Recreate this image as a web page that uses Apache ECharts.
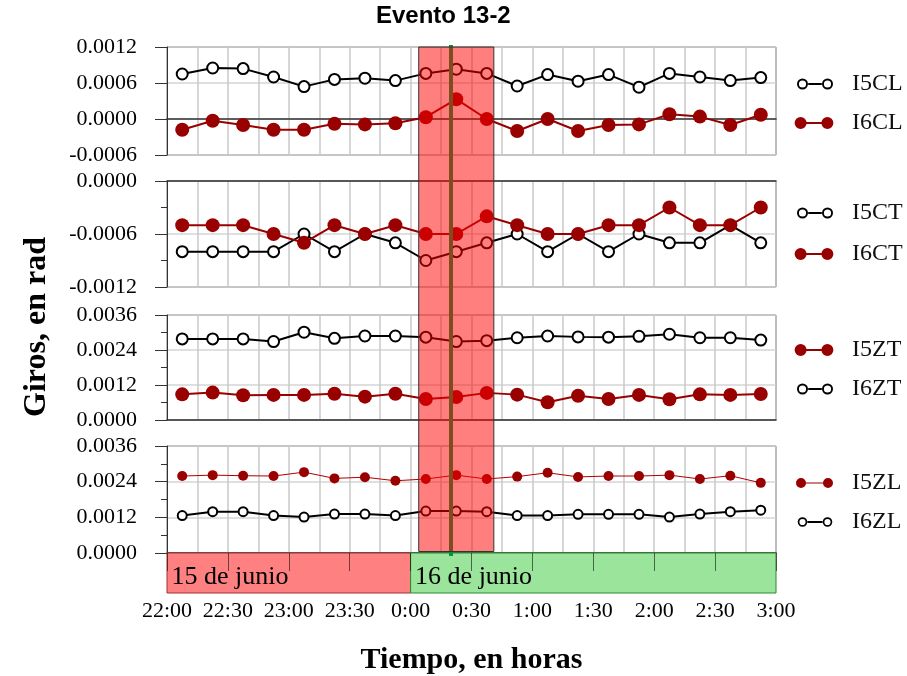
<!DOCTYPE html>
<html><head><meta charset="utf-8">
<script src="https://cdn.jsdelivr.net/npm/echarts@6/dist/echarts.min.js"></script>
<style>html,body{margin:0;padding:0;background:#fff}#c{width:907px;height:676px}</style>
</head><body><div id="c"></div>
<script>
// ---------- data ----------
const categories = ['22:00','22:15','22:30','22:45','23:00','23:15','23:30','23:45','0:00','0:15','0:30','0:45','1:00','1:15','1:30','1:45','2:00','2:15','2:30','2:45'];
const timeLabels = ['22:00','22:30','23:00','23:30','0:00','0:30','1:00','1:30','2:00','2:30','3:00'];
const dayNames = ['15 de junio','16 de junio'];
const dayRanges = [['22:00','0:00'],['0:00','3:00']];
const eventWindow = ['0:04','0:41'];
const eventTime = '0:20';

const I5CL = [0.00075,0.00085,0.00084,0.00070,0.00054,0.00066,0.00068,0.00064,0.00076,0.00083,0.00076,0.00055,0.00074,0.00063,0.00074,0.00053,0.00076,0.00070,0.00064,0.00069];
const I6CL = [-0.00018,-0.00003,-0.00010,-0.00018,-0.00018,-0.00008,-0.00009,-0.00007,0.00003,0.00033,0.00000,-0.00020,0.00000,-0.00020,-0.00010,-0.00009,0.00008,0.00004,-0.00010,0.00007];
const I5CT = [-0.0008,-0.0008,-0.0008,-0.0008,-0.0006,-0.0008,-0.0006,-0.0007,-0.0009,-0.0008,-0.0007,-0.0006,-0.0008,-0.0006,-0.0008,-0.0006,-0.0007,-0.0007,-0.0005,-0.0007];
const I6CT = [-0.0005,-0.0005,-0.0005,-0.0006,-0.0007,-0.0005,-0.0006,-0.0005,-0.0006,-0.0006,-0.0004,-0.0005,-0.0006,-0.0006,-0.0005,-0.0005,-0.0003,-0.0005,-0.0005,-0.0003];
const I5ZT = [0.00088,0.00094,0.00085,0.00086,0.00086,0.00090,0.00080,0.00090,0.00072,0.00079,0.00093,0.00087,0.00061,0.00083,0.00072,0.00086,0.00071,0.00088,0.00086,0.00089];
const I6ZT = [0.00278,0.00278,0.00278,0.00269,0.00301,0.00280,0.00288,0.00288,0.00284,0.00269,0.00272,0.00282,0.00288,0.00285,0.00284,0.00287,0.00294,0.00282,0.00282,0.00274];
const I5ZL = [0.00259,0.00262,0.00260,0.00259,0.00272,0.00251,0.00255,0.00243,0.00249,0.00262,0.00249,0.00257,0.00270,0.00256,0.00259,0.00259,0.00262,0.00249,0.00260,0.00236];
const I6ZL = [0.00126,0.00139,0.00139,0.00126,0.00121,0.00131,0.00131,0.00126,0.00141,0.00141,0.00139,0.00126,0.00126,0.00130,0.00130,0.00130,0.00121,0.00131,0.00139,0.00144];

// ---------- helpers ----------
function toMin(t){ const [h,m]=t.split(':').map(Number); const v=h*60+m; return h>=22 ? v-22*60 : v+120; }
const SERIF = '"Liberation Serif","DejaVu Serif",serif';
const RED = '#990000';

function tiny(){ return 'M0,0L0.01,0L0,0.01Z M42,12L41.99,12L42,11.99Z '; }
function ring(cx,r,ri){ return `M${cx-r},6 A${r},${r} 0 1,1 ${cx+r},6 A${r},${r} 0 1,1 ${cx-r},6 Z M${cx-ri},6 A${ri},${ri} 0 1,0 ${cx+ri},6 A${ri},${ri} 0 1,0 ${cx-ri},6 Z `; }
function disc(cx,r){ return `M${cx-r},6 A${r},${r} 0 1,1 ${cx+r},6 A${r},${r} 0 1,1 ${cx-r},6 Z `; }
function bar(x0,x1,w){ return `M${x0},${6-w/2} L${x1},${6-w/2} L${x1},${6+w/2} L${x0},${6+w/2} Z `; }
function openIcon(c0,c1,r,ri,lw){ return 'path://'+tiny()+ring(c0,r,ri)+ring(c1,r,ri)+bar(c0+r+0.2,c1-r-0.2,lw); }
function fillIcon(c0,c1,r,lw){ return 'path://'+tiny()+disc(c0,r)+disc(c1,r)+bar(c0+r-0.5,c1-r+0.5,lw); }

const panels = [
  {top:47, height:108, min:-0.0006, max:0.0012, interval:0.0006, minor:false},
  {top:181, height:106, min:-0.0012, max:0, interval:0.0006, minor:true},
  {top:315, height:105, min:0, max:0.0036, interval:0.0012, minor:true},
  {top:446, height:107, min:0, max:0.0036, interval:0.0012, minor:true}
];
const GL = 167, GW = 609;

const grids = panels.map(p => ({left:GL, width:GW, top:p.top, height:p.height, show:true, backgroundColor:'#fff', borderColor:'#3a3a3a', borderWidth:1, outerBoundsMode:'none'}));
grids.push({left:GL, width:GW, top:553, height:40, outerBoundsMode:'none'});      // 4 day bar
grids.push({left:GL, width:GW, top:45, height:511, outerBoundsMode:'none'});      // 5 event line
grids.push({left:GL, width:GW, top:47, height:504.5, outerBoundsMode:'none'});    // 6 event window

const xAxes = panels.map((p,i) => ({
  type:'category', gridIndex:i, data:categories, boundaryGap:true,
  axisLine:{show:true, onZero:true, lineStyle:{color:'#333', width:1.5}},
  axisTick:{show:false}, axisLabel:{show:false},
  splitLine:{show:true, interval:0, lineStyle:{color:'#c8c8c8', width:1.5}}
}));
xAxes.push({type:'value', gridIndex:4, min:0, max:300, interval:30, position:'bottom',
  axisLine:{show:false}, axisTick:{show:false}, splitLine:{show:false},
  axisLabel:{fontFamily:SERIF, fontSize:22, color:'#000', margin:7, formatter:v => timeLabels[Math.round(v/30)]},
  name:'Tiempo, en horas', nameLocation:'middle', nameGap:52,
  nameTextStyle:{fontFamily:SERIF, fontSize:30, fontWeight:'bold', color:'#000'}});
xAxes.push({type:'value', gridIndex:4, min:0, max:300, interval:30, position:'top', z:10,
  axisLine:{show:false}, axisLabel:{show:false}, splitLine:{show:false},
  axisTick:{show:true, inside:true, length:18, lineStyle:{color:'rgba(0,0,0,0.55)', width:1}}});
xAxes.push({type:'value', gridIndex:5, min:0, max:300, show:false});
xAxes.push({type:'value', gridIndex:6, min:0, max:300, show:false});

const yAxes = panels.map((p,i) => ({
  type:'value', gridIndex:i, min:p.min, max:p.max, interval:p.interval,
  axisLine:{show:true, lineStyle:{color:'#333'}},
  axisTick:{show:true, length:12, lineStyle:{color:'#333'}},
  minorTick:{show:p.minor, splitNumber:2, length:6, lineStyle:{color:'#333'}},
  minorSplitLine:{show:false},
  splitLine:{show:true, lineStyle:{color:'#d4d4d4', width:1.5}},
  axisLabel:{fontFamily:SERIF, fontSize:22, color:'#000', margin:30,
    formatter:v => (Math.abs(v) < 1e-12 ? 0 : v).toFixed(4)}
}));
yAxes.push({type:'value', gridIndex:4, min:0, max:1, show:false});
yAxes.push({type:'value', gridIndex:5, min:0, max:1, show:false});
yAxes.push({type:'value', gridIndex:6, min:0, max:1, show:false});

function openS(name, data, i, small){
  return {type:'line', name, data, xAxisIndex:i, yAxisIndex:i, symbol:'emptyCircle',
    symbolSize: small ? 9 : 11, color:'#000',
    lineStyle:{color:'#000', width:2}, itemStyle:{color:'#000', borderWidth:2}, z:2};
}
function fillS(name, data, i, small){
  return {type:'line', name, data, xAxisIndex:i, yAxisIndex:i, symbol:'circle',
    symbolSize: small ? 10 : 14, color:RED,
    lineStyle:{color: small ? '#b00000' : RED, width: small ? 1 : 2}, itemStyle:{color:RED}, z:2};
}

const series = [
  openS('I5CL', I5CL, 0), fillS('I6CL', I6CL, 0),
  openS('I5CT', I5CT, 1), fillS('I6CT', I6CT, 1),
  openS('I6ZT', I6ZT, 2), fillS('I5ZT', I5ZT, 2),
  openS('I6ZL', I6ZL, 3, true), fillS('I5ZL', I5ZL, 3, true),
  {type:'line', name:'days', data:[], xAxisIndex:4, yAxisIndex:4, silent:true,
    markArea:{silent:true, z:1,
      label:{show:true, position:'insideLeft', distance:5, offset:[0,4], fontFamily:SERIF, fontSize:26, color:'#000'},
      data:[
        [{xAxis:toMin(dayRanges[0][0]), name:dayNames[0], itemStyle:{color:'#ff8080', borderColor:'#a03030', borderWidth:1}}, {xAxis:toMin(dayRanges[0][1])}],
        [{xAxis:toMin(dayRanges[1][0]), name:dayNames[1], itemStyle:{color:'#9be49b', borderColor:'#2a8a2a', borderWidth:1}}, {xAxis:toMin(dayRanges[1][1]) }]
      ]}},
  {type:'line', name:'evline', data:[], xAxisIndex:6, yAxisIndex:5, silent:true,
    markLine:{silent:true, z:3, symbol:['none','none'], label:{show:false},
      lineStyle:{color:'#00963c', width:4, type:'solid'},
      data:[{xAxis:toMin(eventTime)}]}},
  {type:'line', name:'evwin', data:[], xAxisIndex:7, yAxisIndex:6, silent:true,
    markArea:{silent:true, z:20,
      itemStyle:{color:'rgba(255,0,0,0.5)', borderColor:'#333', borderWidth:1},
      data:[[{xAxis:toMin(eventWindow[0])},{xAxis:toMin(eventWindow[1])}]]}}
];

const OPEN = openIcon(9.5, 34.5, 5.5, 3.6, 2);
const OPEN_S = openIcon(9.5, 34.5, 4.8, 3.1, 2);
const FILL = fillIcon(6.5, 35.5, 6.5, 2);
const FILL_S = fillIcon(8, 35, 5, 1);
const OPENS = [OPEN, OPEN_S];
function legend(top, gap, items){
  return {left:793, top, orient:'vertical', itemWidth:42, itemHeight:12, itemGap:gap,
    padding:0, selectedMode:false,
    textStyle:{fontFamily:SERIF, fontSize:24, color:'#111', padding:[0,0,0,12]},
    data: items.map(([name, icon]) => ({name, icon, itemStyle:{color: OPENS.includes(icon) ? '#000' : RED, borderWidth:0}}))};
}

const option = {
  animation:false,
  backgroundColor:'#fff',
  title:{text:'Evento 13-2', left:376, top:4, padding:0,
    textStyle:{fontFamily:'"Liberation Sans",Arial,sans-serif', fontWeight:'bold', fontSize:24, color:'#000'}},
  grid:grids, xAxis:xAxes, yAxis:yAxes, series,
  legend:[
    legend(72, 15, [['I5CL',OPEN],['I6CL',FILL]]),
    legend(201, 17, [['I5CT',OPEN],['I6CT',FILL]]),
    legend(338, 15, [['I5ZT',FILL],['I6ZT',OPEN]]),
    legend(471, 15, [['I5ZL',FILL_S],['I6ZL',OPEN_S]])
  ],
  graphic:[{type:'text', x:37, y:327, rotation:Math.PI/2,
    style:{text:'Giros, en rad', fontFamily:SERIF, fontSize:32, fontWeight:'bold', fill:'#000', align:'center', verticalAlign:'middle'}}]
};
const chart = echarts.init(document.getElementById('c'));
chart.setOption(option);
</script></body></html>
